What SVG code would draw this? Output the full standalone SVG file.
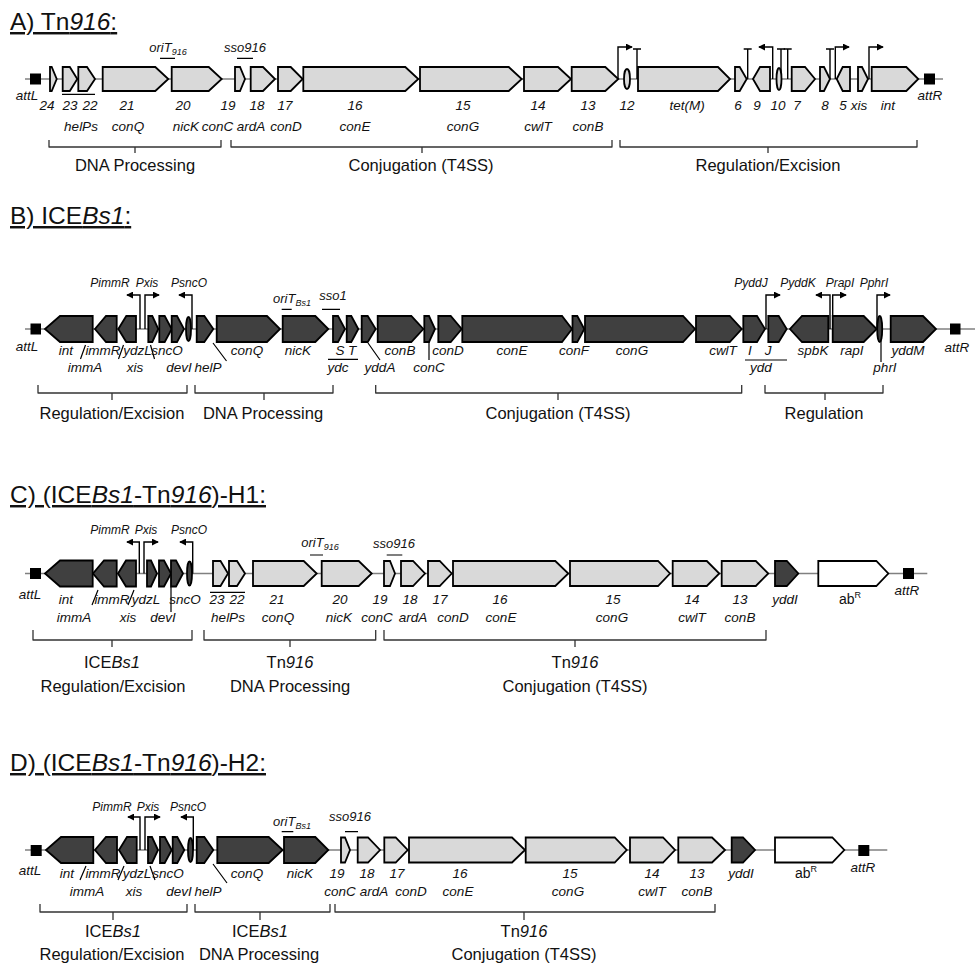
<svg xmlns="http://www.w3.org/2000/svg" width="977" height="968" viewBox="0 0 977 968">
<defs>
<marker id="ah" viewBox="0 0 8 8" refX="7" refY="4" markerWidth="7" markerHeight="7" markerUnits="userSpaceOnUse" orient="auto"><path d="M0,0L8,4L0,8Z" fill="#000"/></marker>
</defs>
<style>
.bb{fill:none;stroke:#808080;stroke-width:1.6}
.dk{fill:#404040;stroke:#000;stroke-width:1.8}
.lt{fill:#d9d9d9;stroke:#000;stroke-width:1.8}
.wh{fill:#fff;stroke:#000;stroke-width:1.8}
.att{fill:#000}
.pr{fill:none;stroke:#000;stroke-width:1.4;marker-end:url(#ah)}
.tm{fill:none;stroke:#000;stroke-width:1.4}
.ld{fill:none;stroke:#000;stroke-width:1.2}
.br{fill:none;stroke:#333;stroke-width:1.3;stroke-linejoin:round}
text{font-family:'Liberation Sans',Arial,sans-serif;fill:#111}
.l{font-size:13.5px;font-style:italic;text-anchor:middle}
.n{font-size:14px;text-anchor:middle}
.p{font-size:12px;font-style:italic;text-anchor:middle}
.s{font-size:13px;font-style:italic;text-anchor:middle}
.b{font-size:16.5px;text-anchor:middle}
.t{font-size:24.5px;text-decoration:underline}
.i{font-style:italic}
.sub{font-size:9px}
</style>

<!-- ============ PANEL A ============ -->
<text class="t" x="10" y="30">A) Tn<tspan class="i">916</tspan>:</text>
<g id="A_backbone"><line class="bb" x1="25" y1="79" x2="943" y2="79"/></g>
<g id="A_connectors">
<path class="pr" d="M618,79V47H632"/>
<path class="tm" d="M637,79V49M633,49H641"/>
<path class="tm" d="M747.7,79V49M743.7,49H751.7"/>
<path class="pr" d="M772.7,79V47H759"/>
<path class="tm" d="M781,79V49M777,49H785"/>
<path class="tm" d="M787.7,79V49M783.7,49H791.7"/>
<path class="tm" d="M830,79V49M826,49H834"/>
<path class="pr" d="M835.3,79V47H849"/>
<path class="pr" d="M869,79V47H883"/>
<path class="ld" d="M160,58.3H175M237,58.3H253M62,94.3H95"/>
<path class="br" d="M49,140V147H221V140M135,147V153"/>
<path class="br" d="M231,140V147H612V140M422,147V153"/>
<path class="br" d="M620,140V147H917V140M768,147V153"/>
</g>
<g id="A_attL"><rect class="att" x="30" y="73.5" width="11" height="11"/></g>
<g id="A_attR"><rect class="att" x="924" y="73.5" width="11" height="11"/></g>
<g id="A_g24"><path class="lt" d="M50,67H51.7L56.7,79L51.7,91H50Z"/></g>
<g id="A_g23"><path class="lt" d="M62.7,67H69.8L77.3,79L69.8,91H62.7Z"/></g>
<g id="A_g22"><path class="lt" d="M78.3,67H87L95,79L87,91H78.3Z"/></g>
<g id="A_g21"><path class="lt" d="M102.7,67H155.3L168.3,79L155.3,91H102.7Z"/></g>
<g id="A_g20"><path class="lt" d="M171.7,67H208.7L221.7,79L208.7,91H171.7Z"/></g>
<g id="A_g19"><path class="lt" d="M235,67H240L245,79L240,91H235Z"/></g>
<g id="A_g18"><path class="lt" d="M250.7,67H263L275,79L263,91H250.7Z"/></g>
<g id="A_g17"><path class="lt" d="M278,67H290.7L302.7,79L290.7,91H278Z"/></g>
<g id="A_g16"><path class="lt" d="M303.3,67H405.3L418.3,79L405.3,91H303.3Z"/></g>
<g id="A_g15"><path class="lt" d="M420,67H508.7L521.7,79L508.7,91H420Z"/></g>
<g id="A_g14"><path class="lt" d="M524,67H558L571,79L558,91H524Z"/></g>
<g id="A_g13"><path class="lt" d="M571.7,67H605.3L618.3,79L605.3,91H571.7Z"/></g>
<g id="A_g12"><ellipse class="lt" cx="627" cy="79" rx="3" ry="10"/></g>
<g id="A_tetM"><path class="lt" d="M638,67H718L730,79L718,91H638Z"/></g>
<g id="A_g6"><path class="lt" d="M735,67H739.7L746.7,79L739.7,91H735Z"/></g>
<g id="A_g9"><path class="lt" d="M770,67H760L753,79L760,91H770Z"/></g>
<g id="A_g10"><ellipse class="lt" cx="779" cy="79" rx="2.5" ry="11"/></g>
<g id="A_g7"><path class="lt" d="M791.7,67H805L815,79L805,91H791.7Z"/></g>
<g id="A_g8"><path class="lt" d="M820,67H824L830,79L824,91H820Z"/></g>
<g id="A_g5"><path class="lt" d="M850,67H842.7L836.7,79L842.7,91H850Z"/></g>
<g id="A_xis"><path class="lt" d="M858,67H862L868,79L862,91H858Z"/></g>
<g id="A_int"><path class="lt" d="M871.7,67H906.3L918.3,79L906.3,91H871.7Z"/></g>
<g id="A_labels">
<text class="l" x="27" y="100">attL</text><text class="l" x="930" y="100">attR</text>
<text class="s" x="168" y="52">oriT<tspan class="sub" dy="3">916</tspan></text>
<text class="s" x="245" y="52">sso916</text>
<text class="l" x="47" y="110">24</text><text class="l" x="70" y="110">23</text><text class="l" x="90" y="110">22</text>
<text class="l" x="127" y="110">21</text><text class="l" x="183" y="110">20</text><text class="l" x="228" y="110">19</text>
<text class="l" x="257" y="110">18</text><text class="l" x="285" y="110">17</text><text class="l" x="355" y="110">16</text>
<text class="l" x="463" y="110">15</text><text class="l" x="538" y="110">14</text><text class="l" x="588" y="110">13</text>
<text class="l" x="627" y="110">12</text><text class="l" x="687" y="110">tet(M)</text><text class="l" x="738" y="110">6</text>
<text class="l" x="757" y="110">9</text><text class="l" x="778" y="110">10</text><text class="l" x="797" y="110">7</text>
<text class="l" x="825" y="110">8</text><text class="l" x="843" y="110">5</text><text class="l" x="859" y="110">xis</text>
<text class="l" x="888" y="110">int</text>
<text class="l" x="81" y="131">helPs</text><text class="l" x="128" y="131">conQ</text><text class="l" x="186" y="131">nicK</text>
<text class="l" x="217.5" y="131">conC</text><text class="l" x="251" y="131">ardA</text><text class="l" x="286" y="131">conD</text>
<text class="l" x="355" y="131">conE</text><text class="l" x="463" y="131">conG</text><text class="l" x="538" y="131">cwlT</text>
<text class="l" x="588" y="131">conB</text>
<text class="b" x="135" y="171">DNA Processing</text>
<text class="b" x="421" y="171">Conjugation (T4SS)</text>
<text class="b" x="768" y="171">Regulation/Excision</text>
</g>

<!-- ============ PANEL B ============ -->
<text class="t" x="10" y="224">B) ICE<tspan class="i">Bs1</tspan>:</text>
<g id="B_backbone"><line class="bb" x1="25" y1="329" x2="975" y2="329"/></g>
<g id="B_connectors">
<path class="pr" d="M140,329V295H127"/>
<path class="pr" d="M145,329V295H159"/>
<path class="pr" d="M192,329V295H179"/>
<path class="pr" d="M766,329V295H780"/>
<path class="pr" d="M830,329V295H816"/>
<path class="pr" d="M832.7,329V295H846"/>
<path class="pr" d="M877,329V295H890"/>
<path class="ld" d="M281.7,309.3H291.7M322,309.3H340"/>
<path class="ld" d="M80.5,359L85.5,345M118.5,359L123.5,345M150.5,345L154.5,359M213,343L226.5,361M328,359.3H358M368,343L380,360M429,341V360M745,360H787M881,340V362"/>
<path class="br" d="M38,385V393H187V385M112,393V400"/>
<path class="br" d="M195,385V393H333V385M264,393V400"/>
<path class="br" d="M375.7,385V393H741.7V385M558,393V400"/>
<path class="br" d="M765,385V393H883V385M825,393V400"/>
</g>
<g id="B_attL"><rect class="att" x="30.5" y="323.5" width="10.5" height="11"/></g>
<g id="B_attR"><rect class="att" x="950" y="323.5" width="10.5" height="11"/></g>
<g id="B_int"><path class="dk" d="M92.7,316H60L45,329L60,342H92.7Z"/></g>
<g id="B_immA"><path class="dk" d="M116.7,316H106L95,329L106,342H116.7Z"/></g>
<g id="B_immR"><path class="dk" d="M136,316H126.3L118.3,329L126.3,342H136Z"/></g>
<g id="B_xis"><path class="dk" d="M148.3,316H152.3L158.3,329L152.3,342H148.3Z"/></g>
<g id="B_ydzL"><path class="dk" d="M159.3,316H164.7L171.7,329L164.7,342H159.3Z"/></g>
<g id="B_devI"><path class="dk" d="M171.7,316H177L184,329L177,342H171.7Z"/></g>
<g id="B_sncO"><ellipse class="dk" cx="188.5" cy="329" rx="2.5" ry="12"/></g>
<g id="B_helP"><path class="dk" d="M196.7,316H204.3L213.3,329L204.3,342H196.7Z"/></g>
<g id="B_conQ"><path class="dk" d="M216.7,316H267L280,329L267,342H216.7Z"/></g>
<g id="B_nicK"><path class="dk" d="M282.7,316H315.3L328.3,329L315.3,342H282.7Z"/></g>
<g id="B_yddS"><path class="dk" d="M333,316H338L345,329L338,342H333Z"/></g>
<g id="B_yddT"><path class="dk" d="M346.7,316H351.3L358.3,329L351.3,342H346.7Z"/></g>
<g id="B_yddA"><path class="dk" d="M361.7,316H367.7L375.7,329L367.7,342H361.7Z"/></g>
<g id="B_conB"><path class="dk" d="M377.7,316H411.3L423.3,329L411.3,342H377.7Z"/></g>
<g id="B_conC"><path class="dk" d="M424.3,316H429L435,329L429,342H424.3Z"/></g>
<g id="B_conD"><path class="dk" d="M438.3,316H450.7L461.7,329L450.7,342H438.3Z"/></g>
<g id="B_conE"><path class="dk" d="M462.3,316H562L572,329L562,342H462.3Z"/></g>
<g id="B_conF"><path class="dk" d="M572.5,316H577.3L584.3,329L577.3,342H572.5Z"/></g>
<g id="B_conG"><path class="dk" d="M585,316H683L695,329L683,342H585Z"/></g>
<g id="B_cwlT"><path class="dk" d="M696,316H729.7L741.7,329L729.7,342H696Z"/></g>
<g id="B_yddI"><path class="dk" d="M743.3,316H757L765,329L757,342H743.3Z"/></g>
<g id="B_yddJ"><path class="dk" d="M768.3,316H778.7L786.7,329L778.7,342H768.3Z"/></g>
<g id="B_spbK"><path class="dk" d="M828.3,316H802L790,329L802,342H828.3Z"/></g>
<g id="B_rapI"><path class="dk" d="M832.7,316H863.7L876.7,329L863.7,342H832.7Z"/></g>
<g id="B_phrI"><ellipse class="dk" cx="879.7" cy="329" rx="2.5" ry="13"/></g>
<g id="B_yddM"><path class="dk" d="M890.7,316H923L936,329L923,342H890.7Z"/></g>
<g id="B_labels">
<text class="l" x="27" y="351">attL</text><text class="l" x="957" y="352">attR</text>
<text class="p" x="110" y="287">PimmR</text><text class="p" x="147" y="287">Pxis</text><text class="p" x="189" y="287">PsncO</text>
<text class="p" x="751" y="287">PyddJ</text><text class="p" x="798" y="287">PyddK</text><text class="p" x="840" y="287">PrapI</text><text class="p" x="874" y="287">PphrI</text>
<text class="s" x="292" y="303">oriT<tspan class="sub" dy="3">Bs1</tspan></text>
<text class="s" x="333" y="300">sso1</text>
<text class="l" x="66" y="355">int</text><text class="l" x="103" y="355">immR</text><text class="l" x="137.5" y="355">ydzL</text>
<text class="l" x="167" y="355">sncO</text><text class="l" x="247" y="355">conQ</text><text class="l" x="298" y="355">nicK</text>
<text class="l" x="340" y="355">S</text><text class="l" x="352" y="355">T</text><text class="l" x="400" y="355">conB</text>
<text class="l" x="448" y="355">conD</text><text class="l" x="512" y="355">conE</text><text class="l" x="574" y="355">conF</text>
<text class="l" x="632" y="355">conG</text><text class="l" x="723" y="355">cwlT</text><text class="l" x="750" y="355">I</text>
<text class="l" x="768" y="355">J</text><text class="l" x="813" y="355">spbK</text><text class="l" x="852" y="355">rapI</text>
<text class="l" x="908" y="355">yddM</text>
<text class="l" x="85" y="371.5">immA</text><text class="l" x="135" y="371.5">xis</text><text class="l" x="179" y="371.5">devI</text>
<text class="l" x="208" y="371.5">helP</text><text class="l" x="338" y="371.5">ydc</text><text class="l" x="380" y="371.5">yddA</text>
<text class="l" x="429" y="371.5">conC</text><text class="l" x="761" y="371.5">ydd</text><text class="l" x="885" y="371.5">phrI</text>
<text class="b" x="112" y="419">Regulation/Excision</text>
<text class="b" x="263" y="419">DNA Processing</text>
<text class="b" x="558" y="419">Conjugation (T4SS)</text>
<text class="b" x="824" y="419">Regulation</text>
</g>

<!-- ============ PANEL C ============ -->
<text class="t" x="10" y="503">C) (ICE<tspan class="i">Bs1</tspan>-Tn<tspan class="i">916</tspan>)-H1:</text>
<g id="C_backbone"><line class="bb" x1="25" y1="573.5" x2="927.3" y2="573.5"/></g>
<g id="C_connectors">
<path class="pr" d="M139.3,573.5V542H127"/>
<path class="pr" d="M144,573.5V542H158"/>
<path class="pr" d="M192.7,573.5V542H180"/>
<path class="ld" d="M310,555H323M386.7,555H402.3"/>
<path class="ld" d="M92,605L98,590M128,605L134,590M171,587V612M210,592.3H245"/>
<path class="br" d="M33,630V640H192V630M112,640V647"/>
<path class="br" d="M204,630V640H375.7V630M290,640V647"/>
<path class="br" d="M384,630V640H766V630M575,640V647"/>
</g>
<g id="C_attL"><rect class="att" x="30" y="568" width="11" height="11"/></g>
<g id="C_attR"><rect class="att" x="903" y="568" width="11" height="11"/></g>
<g id="C_int"><path class="dk" d="M92.7,560.5H60L45,573.5L60,586.5H92.7Z"/></g>
<g id="C_immA"><path class="dk" d="M116.7,560.5H104L93,573.5L104,586.5H116.7Z"/></g>
<g id="C_immR"><path class="dk" d="M136,560.5H126L118,573.5L126,586.5H136Z"/></g>
<g id="C_xis"><path class="dk" d="M147,560.5H151L157,573.5L151,586.5H147Z"/></g>
<g id="C_ydzL"><path class="dk" d="M159,560.5H164L171,573.5L164,586.5H159Z"/></g>
<g id="C_devI"><path class="dk" d="M171,560.5H176L183,573.5L176,586.5H171Z"/></g>
<g id="C_sncO"><ellipse class="dk" cx="189.5" cy="573.5" rx="2.5" ry="12"/></g>
<g id="C_g23"><path class="lt" d="M213,561H220.5L228,573.5L220.5,586H213Z"/></g>
<g id="C_g22"><path class="lt" d="M229,561H237L245,573.5L237,586H229Z"/></g>
<g id="C_g21"><path class="lt" d="M253,561H303.7L316.7,573.5L303.7,586H253Z"/></g>
<g id="C_g20"><path class="lt" d="M321.7,561H358.7L371.7,573.5L358.7,586H321.7Z"/></g>
<g id="C_g19"><path class="lt" d="M384,561H390L395,573.5L390,586H384Z"/></g>
<g id="C_g18"><path class="lt" d="M401,561H413L425,573.5L413,586H401Z"/></g>
<g id="C_g17"><path class="lt" d="M428,561H439.7L451.7,573.5L439.7,586H428Z"/></g>
<g id="C_g16"><path class="lt" d="M453,561H555.3L568.3,573.5L555.3,586H453Z"/></g>
<g id="C_g15"><path class="lt" d="M570,561H658L670,573.5L658,586H570Z"/></g>
<g id="C_g14"><path class="lt" d="M672.7,561H706.8L719.3,573.5L706.8,586H672.7Z"/></g>
<g id="C_g13"><path class="lt" d="M721.7,561H755.8L768.3,573.5L755.8,586H721.7Z"/></g>
<g id="C_yddI"><path class="dk" d="M775,561H786.8L798.3,573.5L786.8,586H775Z"/></g>
<g id="C_abR"><path class="wh" d="M818.3,561H876.3L888.3,573.5L876.3,586H818.3Z"/></g>
<g id="C_labels">
<text class="l" x="30" y="599">attL</text><text class="l" x="907" y="595">attR</text>
<text class="p" x="110" y="534">PimmR</text><text class="p" x="146" y="534">Pxis</text><text class="p" x="189" y="534">PsncO</text>
<text class="s" x="320" y="547">oriT<tspan class="sub" dy="3">916</tspan></text>
<text class="s" x="394" y="548">sso916</text>
<text class="l" x="66" y="604">int</text><text class="l" x="112" y="604">immR</text><text class="l" x="146" y="604">ydzL</text>
<text class="l" x="185" y="604">sncO</text><text class="l" x="217" y="604">23</text><text class="l" x="237" y="604">22</text>
<text class="l" x="277" y="604">21</text><text class="l" x="340" y="604">20</text><text class="l" x="380" y="604">19</text>
<text class="l" x="410" y="604">18</text><text class="l" x="440" y="604">17</text><text class="l" x="500" y="604">16</text>
<text class="l" x="613" y="604">15</text><text class="l" x="692" y="604">14</text><text class="l" x="740" y="604">13</text>
<text class="l" x="785" y="604">yddI</text><text class="n" x="850" y="604">ab<tspan font-size="9" dy="-6">R</tspan></text>
<text class="l" x="74" y="622">immA</text><text class="l" x="128" y="622">xis</text><text class="l" x="163" y="622">devI</text>
<text class="l" x="228" y="622">helPs</text><text class="l" x="278" y="622">conQ</text><text class="l" x="339" y="622">nicK</text>
<text class="l" x="377" y="622">conC</text><text class="l" x="413" y="622">ardA</text><text class="l" x="453" y="622">conD</text>
<text class="l" x="501" y="622">conE</text><text class="l" x="612" y="622">conG</text><text class="l" x="692" y="622">cwlT</text>
<text class="l" x="740" y="622">conB</text>
<text class="b" x="112" y="668">ICE<tspan class="i">Bs1</tspan></text>
<text class="b" x="113" y="692">Regulation/Excision</text>
<text class="b" x="290" y="668">Tn<tspan class="i">916</tspan></text>
<text class="b" x="290" y="692">DNA Processing</text>
<text class="b" x="575" y="668">Tn<tspan class="i">916</tspan></text>
<text class="b" x="575" y="692">Conjugation (T4SS)</text>
</g>

<!-- ============ PANEL D ============ -->
<text class="t" x="10" y="771">D) (ICE<tspan class="i">Bs1</tspan>-Tn<tspan class="i">916</tspan>)-H2:</text>
<g id="D_backbone"><line class="bb" x1="25" y1="850" x2="887.3" y2="850"/></g>
<g id="D_connectors">
<path class="pr" d="M140,850V817H128"/>
<path class="pr" d="M145,850V817H160"/>
<path class="pr" d="M193.3,850V817H181"/>
<path class="ld" d="M281.7,831.7H293.3M345,831.7H358"/>
<path class="ld" d="M80,880L86,866M118,880L124,866M150,866L155,880M213,864L227,883"/>
<path class="br" d="M40,904V912H187V904M113,912V920"/>
<path class="br" d="M195,904V912H330V904M260,912V920"/>
<path class="br" d="M335,904V912H715V904M524,912V920"/>
</g>
<g id="D_attL"><rect class="att" x="30.7" y="845" width="11" height="11"/></g>
<g id="D_attR"><rect class="att" x="858.3" y="845" width="11" height="11"/></g>
<g id="D_int"><path class="dk" d="M93.3,837H61L46,850L61,863H93.3Z"/></g>
<g id="D_immA"><path class="dk" d="M117,837H106L95,850L106,863H117Z"/></g>
<g id="D_immR"><path class="dk" d="M136.7,837H127L119,850L127,863H136.7Z"/></g>
<g id="D_xis"><path class="dk" d="M148,837H152L158,850L152,863H148Z"/></g>
<g id="D_ydzL"><path class="dk" d="M160,837H164.7L171.7,850L164.7,863H160Z"/></g>
<g id="D_devI"><path class="dk" d="M172.7,837H177.3L184.3,850L177.3,863H172.7Z"/></g>
<g id="D_sncO"><ellipse class="dk" cx="190.5" cy="850" rx="2.5" ry="12"/></g>
<g id="D_helP"><path class="dk" d="M196.7,837H204.3L213.3,850L204.3,863H196.7Z"/></g>
<g id="D_conQ"><path class="dk" d="M217.3,837H268.7L282.7,850L268.7,863H217.3Z"/></g>
<g id="D_nicK"><path class="dk" d="M284,837H315.3L328.3,850L315.3,863H284Z"/></g>
<g id="D_g19"><path class="lt" d="M341,837.5H345L350,850L345,862.5H341Z"/></g>
<g id="D_g18"><path class="lt" d="M357.7,837.5H368L380,850L368,862.5H357.7Z"/></g>
<g id="D_g17"><path class="lt" d="M384.3,837.5H395.7L407.7,850L395.7,862.5H384.3Z"/></g>
<g id="D_g16"><path class="lt" d="M409,837.5H512L525,850L512,862.5H409Z"/></g>
<g id="D_g15"><path class="lt" d="M525.7,837.5H614.7L626.7,850L614.7,862.5H525.7Z"/></g>
<g id="D_g14"><path class="lt" d="M630,837.5H663L675,850L663,862.5H630Z"/></g>
<g id="D_g13"><path class="lt" d="M678.3,837.5H712L725,850L712,862.5H678.3Z"/></g>
<g id="D_yddI"><path class="dk" d="M731.7,837.5H743L755,850L743,862.5H731.7Z"/></g>
<g id="D_abR"><path class="wh" d="M775,837.5H832.3L844.3,850L832.3,862.5H775Z"/></g>
<g id="D_labels">
<text class="l" x="30" y="875">attL</text><text class="l" x="863" y="872">attR</text>
<text class="p" x="112" y="811">PimmR</text><text class="p" x="148" y="811">Pxis</text><text class="p" x="188" y="811">PsncO</text>
<text class="s" x="292" y="826">oriT<tspan class="sub" dy="3">Bs1</tspan></text>
<text class="s" x="350" y="821">sso916</text>
<text class="l" x="67" y="878">int</text><text class="l" x="103" y="878">immR</text><text class="l" x="137" y="878">ydzL</text>
<text class="l" x="168" y="878">sncO</text><text class="l" x="247" y="878">conQ</text><text class="l" x="300" y="878">nicK</text>
<text class="l" x="337" y="878">19</text><text class="l" x="367" y="878">18</text><text class="l" x="397" y="878">17</text>
<text class="l" x="460" y="878">16</text><text class="l" x="570" y="878">15</text><text class="l" x="652" y="878">14</text>
<text class="l" x="697" y="878">13</text><text class="l" x="741" y="878">yddI</text>
<text class="n" x="806" y="878">ab<tspan font-size="9" dy="-6">R</tspan></text>
<text class="l" x="87" y="896">immA</text><text class="l" x="134" y="896">xis</text><text class="l" x="179" y="896">devI</text>
<text class="l" x="208" y="896">helP</text><text class="l" x="340" y="896">conC</text><text class="l" x="374" y="896">ardA</text>
<text class="l" x="411" y="896">conD</text><text class="l" x="458" y="896">conE</text><text class="l" x="568" y="896">conG</text>
<text class="l" x="652" y="896">cwlT</text><text class="l" x="697" y="896">conB</text>
<text class="b" x="113" y="937">ICE<tspan class="i">Bs1</tspan></text>
<text class="b" x="112" y="960">Regulation/Excision</text>
<text class="b" x="260" y="937">ICE<tspan class="i">Bs1</tspan></text>
<text class="b" x="259" y="960">DNA Processing</text>
<text class="b" x="524" y="937">Tn<tspan class="i">916</tspan></text>
<text class="b" x="524" y="960">Conjugation (T4SS)</text>
</g>
</svg>
